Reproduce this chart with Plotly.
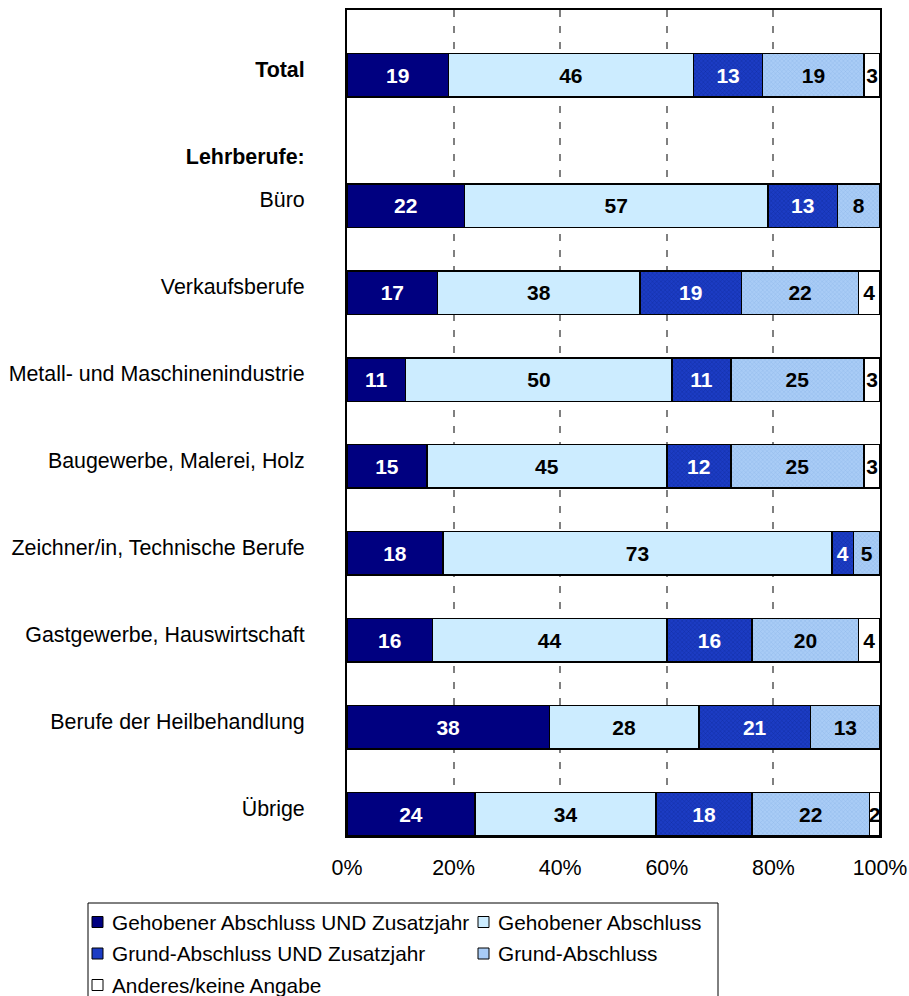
import plotly.graph_objects as go

# Share of apprentices by school-leaving qualification, in percent
categories = [
    "Total",
    "Büro",
    "Verkaufsberufe",
    "Metall- und Maschinenindustrie",
    "Baugewerbe, Malerei, Holz",
    "Zeichner/in, Technische Berufe",
    "Gastgewerbe, Hauswirtschaft",
    "Berufe der Heilbehandlung",
    "Übrige",
]
group_header = "Lehrberufe:"

gehoben_zusatz = [19, 22, 17, 11, 15, 18, 16, 38, 24]
gehoben = [46, 57, 38, 50, 45, 73, 44, 28, 34]
grund_zusatz = [13, 13, 19, 11, 12, 4, 16, 21, 18]
grund = [19, 8, 22, 25, 25, 5, 20, 13, 22]
anderes = [3, None, 4, 3, 3, None, 4, None, 2]

x_ticks = [0, 20, 40, 60, 80, 100]

FONT = "Arial, Liberation Sans"
FS = 21.4
LEGEND_FS = 20.8

# Figure geometry (pixels)
W, H = 909, 996
M_L, M_R, M_T, M_B = 347, 29, 10, 160
PW, PH = W - M_L - M_R, H - M_T - M_B


def px_x(px):
    return (px - M_L) / PW


def px_y(py):
    return (H - M_B - py) / PH


# Row layout: "Total" on top, then a header row, then the occupations
header_pos = 1.0
row_pos = [0.0] + [1.5 + i for i in range(len(categories) - 1)]

series = [
    ("Gehobener Abschluss UND Zusatzjahr", gehoben_zusatz, "#000080", None, "white"),
    ("Gehobener Abschluss", gehoben, "#CCECFF", None, "black"),
    ("Grund-Abschluss UND Zusatzjahr", grund_zusatz, "#1C3CC4", "#0F2A9E", "white"),
    ("Grund-Abschluss", grund, "#A9CCF6", "#8FB6EA", "black"),
    ("Anderes/keine Angabe", anderes, "#FFFFFF", None, "black"),
]

fig = go.Figure()
for name, vals, color, texture, txtcol in series:
    marker = dict(color=color, line=dict(color="black", width=1.5))
    if texture:
        marker["pattern"] = dict(shape="x", size=3, solidity=0.25,
                                 fgcolor=texture, bgcolor=color, fillmode="replace")
    fig.add_trace(go.Bar(
        name=name,
        x=vals,
        y=row_pos,
        orientation="h",
        width=0.5,
        marker=marker,
        text=[("" if v is None else str(v)) for v in vals],
        textposition="inside",
        insidetextanchor="middle",
        constraintext="none",
        textangle=0,
        textfont=dict(family=FONT, size=21, color=txtcol, weight="bold"),
        hoverinfo="skip",
        showlegend=False,
    ))

# Legend box below the chart: two columns, entries filled row by row
legend_box = dict(left=88, top=903, right=718, bottom=1010)
col_x = [92, 478]
row_y = [922, 953.5, 985]
sq = 11
gap = 7

shapes = [dict(
    type="rect", xref="paper", yref="paper",
    x0=px_x(legend_box["left"]), x1=px_x(legend_box["right"]),
    y0=px_y(legend_box["top"]), y1=px_y(legend_box["bottom"]),
    line=dict(color="black", width=1), fillcolor="rgba(0,0,0,0)",
)]
annotations = []
for i, (name, _, color, _, _) in enumerate(series):
    cx = col_x[i % 2]
    cy = row_y[i // 2]
    shapes.append(dict(
        type="rect", xref="paper", yref="paper",
        x0=px_x(cx), x1=px_x(cx + sq),
        y0=px_y(cy + sq / 2), y1=px_y(cy - sq / 2),
        line=dict(color="black", width=1), fillcolor=color,
    ))
    annotations.append(dict(
        text=name, xref="paper", yref="paper",
        x=px_x(cx + sq + gap), y=px_y(cy),
        xanchor="left", yanchor="middle", showarrow=False,
        font=dict(family=FONT, size=LEGEND_FS, color="black"),
    ))

tick_vals = [row_pos[0], header_pos] + row_pos[1:]
tick_text = ["<b>" + categories[0] + "</b>", "<b>" + group_header + "</b>"] + categories[1:]

fig.update_layout(
    barmode="stack",
    width=W,
    height=H,
    margin=dict(l=M_L, r=M_R, t=M_T, b=M_B, autoexpand=False),
    paper_bgcolor="white",
    plot_bgcolor="white",
    font=dict(family=FONT, size=FS, color="black"),
    showlegend=False,
    shapes=shapes,
    annotations=annotations,
    xaxis=dict(
        range=[0, 100],
        tickvals=x_ticks,
        ticktext=[f"{v}%" for v in x_ticks],
        showgrid=True,
        gridcolor="#808080",
        gridwidth=1.5,
        griddash="7px,9px",
        zeroline=False,
        showline=True,
        linecolor="black",
        linewidth=2,
        mirror=True,
        ticks="",
        ticklabelstandoff=11,
    ),
    yaxis=dict(
        range=[8.75, -0.75],
        tickvals=tick_vals,
        ticktext=tick_text,
        showgrid=False,
        zeroline=False,
        showline=True,
        linecolor="black",
        linewidth=2,
        mirror=True,
        ticks="",
        ticklabelstandoff=36,
        ticklabelshift=6,
    ),
)

fig.write_html("out.html")
